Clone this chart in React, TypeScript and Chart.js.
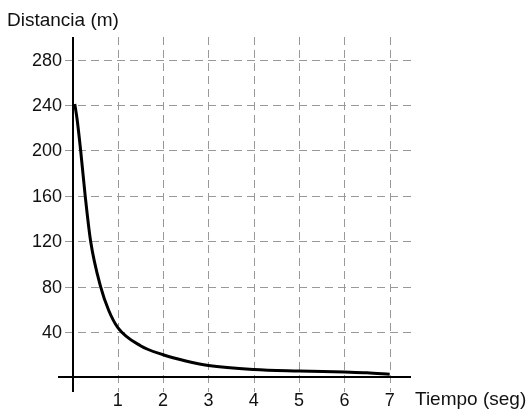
import React, { useEffect, useRef } from "react";
import { Chart, registerables } from "chart.js";

Chart.register(...registerables);

const times = [0.05, 0.1, 0.18, 0.28, 0.4, 0.62, 0.8, 1.0, 1.5, 2.0, 2.5, 3.0, 4.0, 5.0, 6.0, 6.5, 7.0];
const distances = [241, 228, 200, 160, 120, 80, 59, 44, 28, 20, 14.5, 10.5, 7, 5.7, 4.8, 4.2, 2.8];
const xTicks = [1, 2, 3, 4, 5, 6, 7];
const yTicks = [40, 80, 120, 160, 200, 240, 280];
const yTitle = "Distancia (m)";
const xTitle = "Tiempo (seg)";

const FONT = '"Liberation Sans", Arial, sans-serif';

const axesPlugin = {
  id: "customAxes",
  beforeDatasetsDraw(chart: any) {
    const { ctx, chartArea, scales } = chart;
    const x = scales.x;
    const y = scales.y;
    ctx.save();
    // grid
    ctx.strokeStyle = "#999";
    ctx.lineWidth = 1;
    ctx.setLineDash([8, 5]);
    xTicks.forEach((t) => {
      const px = Math.round(x.getPixelForValue(t)) + 0.5;
      ctx.beginPath();
      ctx.moveTo(px, chartArea.top);
      ctx.lineTo(px, chartArea.bottom);
      ctx.stroke();
    });
    yTicks.forEach((v) => {
      const py = Math.round(y.getPixelForValue(v)) + 0.5;
      ctx.beginPath();
      ctx.moveTo(chartArea.left + 7, py);
      ctx.lineTo(chartArea.right, py);
      ctx.stroke();
    });
    // axes
    ctx.setLineDash([]);
    ctx.strokeStyle = "#000";
    ctx.lineWidth = 2;
    const x0 = Math.round(x.getPixelForValue(0));
    const y0 = Math.round(y.getPixelForValue(0));
    ctx.beginPath();
    ctx.moveTo(x0, chartArea.top);
    ctx.lineTo(x0, chartArea.bottom);
    ctx.stroke();
    ctx.beginPath();
    ctx.moveTo(chartArea.left, y0);
    ctx.lineTo(chartArea.right, y0);
    ctx.stroke();
    // tick labels
    ctx.fillStyle = "#111";
    ctx.font = `18px ${FONT}`;
    ctx.textBaseline = "middle";
    ctx.textAlign = "right";
    yTicks.forEach((v) => {
      ctx.fillText(String(v), x0 - 11, y.getPixelForValue(v) + 1);
    });
    ctx.textAlign = "center";
    xTicks.forEach((t) => {
      ctx.fillText(String(t), x.getPixelForValue(t), y0 + 24);
    });
    // titles
    ctx.font = `19px ${FONT}`;
    ctx.textAlign = "left";
    ctx.fillText(yTitle, 7, 21);
    ctx.fillText(xTitle, chartArea.right + 4, y0 + 23);
    ctx.restore();
  },
};

export default function App() {
  const ref = useRef<HTMLCanvasElement | null>(null);
  useEffect(() => {
    if (!ref.current) return;
    const chart = new Chart(ref.current, {
      type: "line",
      data: {
        datasets: [
          {
            data: times.map((t, i) => ({ x: t, y: distances[i] })),
            borderColor: "#000",
            borderWidth: 3,
            pointRadius: 0,
            cubicInterpolationMode: "monotone",
            fill: false,
          },
        ],
      },
      options: {
        responsive: false,
        animation: false,
        layout: { padding: { left: 58, right: 116, top: 37, bottom: 19 } },
        plugins: { legend: { display: false }, tooltip: { enabled: false } },
        scales: {
          x: { type: "linear", min: -0.32, max: 7.47, display: false },
          y: { type: "linear", min: -12.8, max: 300, display: false },
        },
      },
      plugins: [axesPlugin],
    } as any);
    return () => chart.destroy();
  }, []);
  return (
    <div style={{ position: "fixed", left: 0, top: 0, width: 527, height: 411, background: "#fff" }}>
      <canvas ref={ref} width={527} height={411} style={{ display: "block" }} />
    </div>
  );
}
